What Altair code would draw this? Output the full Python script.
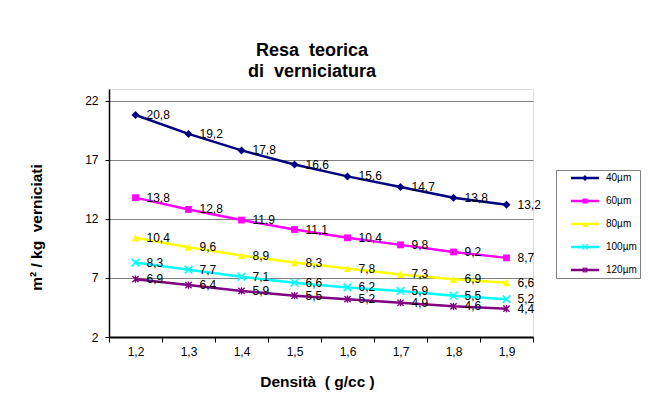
import altair as alt
import pandas as pd

# ---------------- data ----------------
densita = ["1,2", "1,3", "1,4", "1,5", "1,6", "1,7", "1,8", "1,9"]
serie = ["40µm", "60µm", "80µm", "100µm", "120µm"]
v40 = [20.8, 19.2, 17.8, 16.6, 15.6, 14.7, 13.8, 13.2]
v60 = [13.8, 12.8, 11.9, 11.1, 10.4, 9.8, 9.2, 8.7]
v80 = [10.4, 9.6, 8.9, 8.3, 7.8, 7.3, 6.9, 6.6]
v100 = [8.3, 7.7, 7.1, 6.6, 6.2, 5.9, 5.5, 5.2]
v120 = [6.9, 6.4, 5.9, 5.5, 5.2, 4.9, 4.6, 4.4]
colori = ["#000080", "#FF00FF", "#FFFF00", "#00FFFF", "#800080"]
y_ticks = [2, 7, 12, 17, 22]

valori = [v40, v60, v80, v100, v120]
rows = []
for s, vals in zip(serie, valori):
    for d, v in zip(densita, vals):
        rows.append({"serie": s, "densita": d, "valore": v})
df = pd.DataFrame(rows)

FONT = "Liberation Sans"
NB = "\u00a0"

# ---------------- marker shapes (style) ----------------
A = 0.27
B = 0.19
diamond = [[(0, -1), (1, 0), (0, 1), (-1, 0)]]
square = [[(-1, -1), (1, -1), (1, 1), (-1, 1)]]
triangle = [[(0, -1), (1, 1), (-1, 1)]]
xmark = [[(-1, -1 + A), (-1 + A, -1), (1, 1 - A), (1 - A, 1)],
         [(-1, 1 - A), (1 - A, -1), (1, -1 + A), (-1 + A, 1)]]
aster = xmark + [[(-B, -1), (B, -1), (B, 1), (-B, 1)]]
marker_defs = [(diamond, 1.0), (square, 0.85), (triangle, 0.9), (xmark, 1.1), (aster, 0.9)]


def path(polys, k, ox=0.0):
    out = []
    for poly in polys:
        pts = ["%.3f,%.3f" % (ox + x * k, y * k) for x, y in poly]
        out.append("M" + "L".join(pts) + "Z")
    return "".join(out)


point_shapes = [path(p, k) for p, k in marker_defs]
line_seg = "M0.75,-0.31L7.75,-0.31L7.75,0.31L0.75,0.31Z"
legend_shapes = [line_seg + path(p, 0.75 * k, 4.25) for p, k in marker_defs]

# ---------------- encodings ----------------
x_enc = alt.X(
    "densita:N", sort=densita, bandPosition=0.5,
    scale=alt.Scale(type="band", paddingInner=0, paddingOuter=0),
    axis=alt.Axis(
        title="Densità" + NB + " ( g/cc )", titleFont=FONT, titleFontSize=15.5, titleFontWeight="bold",
        titleColor="black", titleX=208, titleY=37, titleBaseline="top", titleAlign="center",
        labelAngle=0, labelFont=FONT, labelFontSize=12, labelColor="black", labelPadding=4,
        tickBand="extent", tickSize=5, tickColor="black", domainColor="black", domainWidth=2,
        grid=False,
    ),
)
y_enc = alt.Y(
    "valore:Q",
    scale=alt.Scale(domain=[2, 23], nice=False, zero=False),
    axis=alt.Axis(
        title="m² / kg" + NB + " verniciati", titleFont=FONT, titleFontSize=15.5, titleFontWeight="bold",
        titleColor="black", titleX=-65, titleY=138, titleAngle=270, titleBaseline="bottom",
        titleAlign="center",
        values=y_ticks, labelFont=FONT, labelFontSize=12, labelColor="black", labelPadding=7,
        tickSize=4, tickColor="black", domainColor="black", domainWidth=1.5,
        grid=True, gridColor="#808080", gridWidth=1,
    ),
)

color_scale = alt.Scale(domain=serie, range=colori)

legend_props = dict(
    title=None, orient="none", legendX=447, legendY=81, padding=3,
    strokeColor="#808080", fillColor="white", symbolSize=64, symbolStrokeWidth=0,
    symbolOpacity=1, symbolOffset=4, labelOffset=33, rowPadding=13, labelFont=FONT,
    labelFontSize=10, labelColor="black", labelLimit=200,
)

base = alt.Chart(df)

lines = base.mark_line(strokeWidth=2.5).encode(
    x=x_enc, y=y_enc,
    color=alt.Color("serie:N", scale=color_scale, legend=None),
)

points = base.mark_point(filled=True, opacity=1, size=64).encode(
    x=x_enc, y=y_enc,
    color=alt.Color("serie:N", scale=color_scale, legend=None),
    shape=alt.Shape("serie:N", scale=alt.Scale(domain=serie, range=point_shapes), legend=None),
)

labels = base.transform_calculate(
    etichetta="replace(format(datum.valore, '.1f'), '.', ',')"
).mark_text(align="left", baseline="middle", dx=11, font=FONT, fontSize=12, color="black").encode(
    x=x_enc, y=y_enc, text="etichetta:N",
)

legend_layer = base.transform_filter("false").mark_point(filled=True, opacity=1, size=64).encode(
    x=x_enc, y=y_enc,
    color=alt.Color("serie:N", scale=color_scale, legend=alt.Legend(**legend_props)),
    shape=alt.Shape("serie:N", scale=alt.Scale(domain=serie, range=legend_shapes),
                    legend=alt.Legend(**legend_props)),
)

chart = alt.layer(lines, points, labels, legend_layer).resolve_scale(
    color="independent", shape="independent"
).properties(
    width=424, height=248,
    autosize=alt.AutoSizeParams(type="none"),
    padding={"left": 101, "top": 81, "right": 111, "bottom": 58},
    title=alt.TitleParams(
        ["Resa" + NB + " teorica", "di" + NB + " verniciatura"], font=FONT, fontSize=18,
        fontWeight="bold", color="black", anchor="middle", dx=-9, dy=16, offset=6,
        lineHeight=21, baseline="bottom", frame="group",
    ),
).configure_view(
    fill="#C0C0C0", stroke="#808080", strokeWidth=1
).configure(font=FONT, background="white")

chart.save("out.html", embed_options={"renderer": "svg", "actions": False})
